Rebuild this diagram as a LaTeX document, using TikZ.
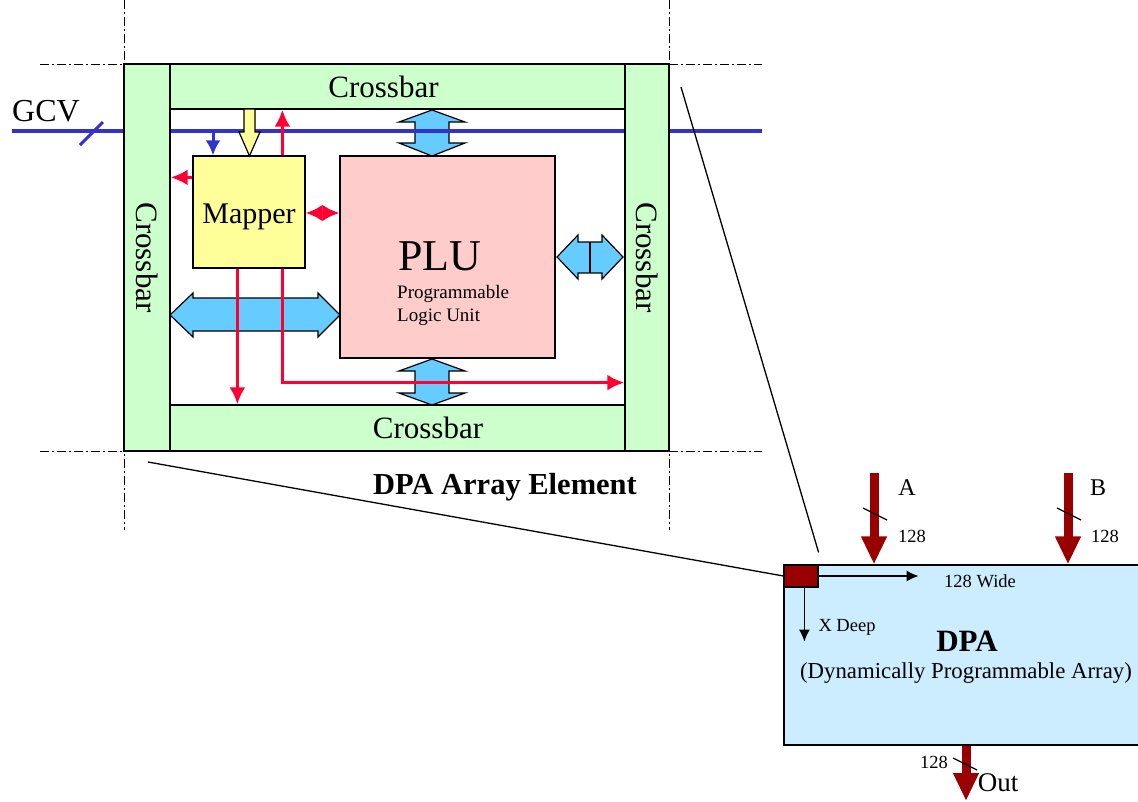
\documentclass[tikz,border=0pt]{standalone}
\usepackage{fontspec}
\setmainfont{Liberation Serif}
\usetikzlibrary{positioning,calc,arrows.meta}
\definecolor{xbargreen}{RGB}{204,255,204}
\definecolor{mapyellow}{RGB}{255,255,153}
\definecolor{plupink}{RGB}{255,204,204}
\definecolor{busblue}{RGB}{102,204,255}
\definecolor{dpablue}{RGB}{204,236,255}
\definecolor{gcvblue}{RGB}{51,51,204}
\definecolor{sigred}{RGB}{255,0,51}
\definecolor{datared}{RGB}{153,0,0}
\tikzset{xbar/.style={draw,fill=xbargreen,line width=1.2pt,inner sep=0pt,font=\fontsize{31}{31}\selectfont}  }
\tikzset{blkbox/.style={draw,line width=1.2pt,inner sep=0pt}  }
\tikzset{sigarr/.style={draw=sigred,line width=3.5pt,-{Latex[length=17pt,width=16pt]}}  }
\tikzset{busarr/.style={draw,fill=busblue,line width=1.2pt,line join=miter}  }
\tikzset{datarr/.style={datared,line width=9pt,-{Triangle[length=28pt,width=24pt]}}  }
\tikzset{frameline/.style={line width=0.8pt,dash pattern=on 9pt off 3pt on 2pt off 3pt}  }
\tikzset{>={Latex}}

\begin{document}
\begin{tikzpicture}[x=1pt,y=-1pt]
\useasboundingbox (0,0) rectangle (1138,801);
\begin{scope}
    % data paths between PLU and crossbars
    \draw[busarr] (432,110) -- (465,122) -- (449,122) -- (449,143) -- (465,143) -- (432,156)
          -- (399,143) -- (415,143) -- (415,122) -- (399,122) -- cycle;
    \draw[busarr] (432,359) -- (465,371) -- (449,371) -- (449,393) -- (465,393) -- (432,405)
          -- (399,393) -- (415,393) -- (415,371) -- (399,371) -- cycle;
    \draw[busarr] (170,315) -- (193,293) -- (193,298) -- (318,298) -- (318,293) -- (340,315)
          -- (318,337) -- (318,331) -- (193,331) -- (193,337) -- cycle;
    \draw[busarr] (557,257) -- (578,235) -- (578,242) -- (602,242) -- (602,235) -- (623,257)
          -- (602,279) -- (602,273) -- (578,273) -- (578,279) -- cycle;
    \draw[line width=2pt] (590,242) -- (590,273);

    % GCV bus
    \coordinate (gcvw) at (12,131);
    \coordinate (gcve) at (762,131);
    \draw[gcvblue,line width=4pt] (gcvw) -- (gcve);
    \draw[gcvblue,line width=3pt] ($(gcvw)+(68,14)$) -- ++(23,-23);
    \node[font=\fontsize{32}{32}\selectfont] (gcv) at (46,111) {GCV};

    \node[xbar,minimum width=455pt,minimum height=45pt] (topbar) at (397.5,86.5) {\hspace*{-28pt}Crossbar};
    \node[xbar,minimum width=455pt,minimum height=46pt] (botbar) at (397.5,428) {\hspace*{61pt}Crossbar};
    \node[xbar,rotate=-90,minimum width=387pt,minimum height=46pt] (leftbar) at (147,257.5) {Crossbar};
    \node[xbar,rotate=-90,minimum width=387pt,minimum height=44pt] (rightbar) at (647,257.5) {Crossbar};

    \node[blkbox,fill=mapyellow,minimum width=112pt,minimum height=112pt,text height=22pt,text depth=0pt,
          font=\fontsize{30}{30}\selectfont] (mapper) at (249,212) {Mapper};
    \node[blkbox,fill=plupink,minimum width=215pt,minimum height=202pt] (plu) at (447.5,257) {};
    \node[font=\fontsize{44}{44}\selectfont] (plut) at (440,256) {PLU};
    \node[anchor=west,inner sep=0pt,font=\fontsize{19}{19}\selectfont] (plud1) at (397,294) {Programmable};
    \node[anchor=west,inner sep=0pt,font=\fontsize{19}{19}\selectfont] (plud2) at (397,317) {Logic Unit};

    % mapper connections
    \draw[busarr,fill=mapyellow] (244,109) -- (255,109) -- (255,132) -- (260,132) -- (249.5,156)
          -- (239,132) -- (244,132) -- cycle;
    \coordinate (gtap) at (213,131);
    \draw[gcvblue,line width=3pt,-{Latex[length=15pt,width=15pt]}] (gtap) -- (gtap |- mapper.north);

    \coordinate (mup) at ($(mapper.north west)+(90,0)$);
    \coordinate (mleft) at ($(mapper.north west)+(0,22)$);
    \coordinate (mdn1) at ($(mapper.south west)+(45,0)$);
    \coordinate (mdn2) at ($(mapper.south west)+(90,0)$);
    \coordinate (mturn) at ($(mdn2)+(0,114)$);
    \draw[sigarr] (mup) -- (mup |- topbar.south);
    \draw[sigarr] (mleft) -- (mleft -| leftbar.north);
    \draw[sigarr] (mdn1) -- (mdn1 |- botbar.north);
    \draw[sigarr] (mdn2) -- (mturn) -- (mturn -| rightbar.south);
    \draw[sigred,line width=3.5pt,{Latex[length=17pt,width=17pt]}-{Latex[length=17pt,width=17pt]}]
          (mapper.east |- 0,213) -- (plu.west |- 0,213);

    % cell frame
    \draw[frameline] (40,64) -- (762,64)
          (40,451) -- (762,451)
          (124,0) -- (124,530)
          (669,0) -- (669,530);
    \node[font=\bfseries\fontsize{30.5}{30.5}\selectfont] (elem) at (505,487) {DPA Array Element};
\end{scope}

\begin{scope}
    \node[blkbox,fill=dpablue,minimum width=356pt,minimum height=180pt] (dpa) at (962,655) {};
    \node[draw,fill=datared,line width=1.2pt,inner sep=0pt,minimum width=34pt,minimum height=22pt] (cell) at (801,576) {};

    \coordinate (zoomtl) at (681,87);
    \coordinate (zoombl) at (148,462);
    \coordinate (zoomtr) at ($(cell.north east)+(0,-12)$);
    \draw[line width=1.3pt] (zoomtl) -- (zoomtr)
          (zoombl) -- (cell.west);

    \draw[line width=1.5pt,-{Latex[length=12pt,width=11pt]}] (cell.east) -- ++(100,0);
    \node[font=\fontsize{18.5}{18.5}\selectfont] (widel) at (980,581) {128 Wide};
    \draw[line width=1.5pt,-{Latex[length=12pt,width=11pt]}] ($(cell.south west)+(21,0)$) -- ++(0,54);
    \node[font=\fontsize{18.5}{18.5}\selectfont] (deepl) at (847,627) {X Deep};

    \node[font=\bfseries\fontsize{31}{31}\selectfont] (dpat) at (967,641) {DPA};
    \node[font=\fontsize{22.8}{22.8}\selectfont] (dpad) at (966,673) {(Dynamically Programmable Array)};

    % 128 bit ports
    \coordinate (ina) at (874,473);
    \coordinate (inb) at (1068,473);
    \coordinate (outc) at (966,801);
    \draw[datarr] (ina) -- (ina |- dpa.north);
    \draw[datarr] (inb) -- (inb |- dpa.north);
    \draw[datarr] (outc |- dpa.south) -- (outc);
    \draw[line width=1.2pt] ($(ina)+(-11,35)$) -- ++(24,12)
          ($(inb)+(-11,35)$) -- ++(24,12)
          ($(outc)+(-13,-43)$) -- ++(24,12);

    \node[font=\fontsize{24}{24}\selectfont] (alab) at (907,488) {A};
    \node[font=\fontsize{18.5}{18.5}\selectfont] (awid) at (912,536) {128};
    \node[font=\fontsize{24}{24}\selectfont] (blab) at (1098,488) {B};
    \node[font=\fontsize{18.5}{18.5}\selectfont] (bwid) at (1105,536) {128};
    \node[font=\fontsize{18.5}{18.5}\selectfont] (owid) at (934,762) {128};
    \node[font=\fontsize{27}{27}\selectfont] (olab) at (998,783) {Out};
\end{scope}
\end{tikzpicture}
\end{document}
